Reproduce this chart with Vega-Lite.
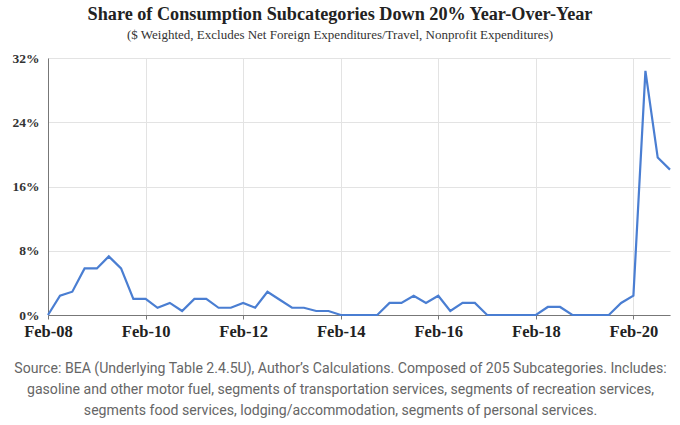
{
  "$schema": "https://vega.github.io/schema/vega-lite/v6.json",
  "width": 622,
  "height": 257,
  "autosize": {"type": "none"},
  "padding": {"left": 48, "top": 58, "right": 10, "bottom": 110},
  "background": "white",
  "title": {
    "text": "Share of Consumption Subcategories Down 20% Year-Over-Year",
    "subtitle": "($ Weighted, Excludes Net Foreign Expenditures/Travel, Nonprofit Expenditures)",
    "font": "Liberation Serif",
    "fontSize": 18.2,
    "fontWeight": "bold",
    "color": "#222222",
    "subtitleFont": "Liberation Serif",
    "subtitleFontSize": 13,
    "subtitleColor": "#333333",
    "subtitlePadding": 5,
    "anchor": "middle",
    "dx": -19,
    "offset": 8
  },
  "data": {
    "values": [
      {"date": "2008-02-01", "share": 0},
      {"date": "2008-05-01", "share": 2.4},
      {"date": "2008-08-01", "share": 2.9},
      {"date": "2008-11-01", "share": 5.8},
      {"date": "2009-02-01", "share": 5.8},
      {"date": "2009-05-01", "share": 7.3},
      {"date": "2009-08-01", "share": 5.8},
      {"date": "2009-11-01", "share": 2.0},
      {"date": "2010-02-01", "share": 2.0},
      {"date": "2010-05-01", "share": 0.9},
      {"date": "2010-08-01", "share": 1.5},
      {"date": "2010-11-01", "share": 0.5},
      {"date": "2011-02-01", "share": 2.0},
      {"date": "2011-05-01", "share": 2.0},
      {"date": "2011-08-01", "share": 0.9},
      {"date": "2011-11-01", "share": 0.9},
      {"date": "2012-02-01", "share": 1.5},
      {"date": "2012-05-01", "share": 0.9},
      {"date": "2012-08-01", "share": 2.9},
      {"date": "2012-11-01", "share": 1.9},
      {"date": "2013-02-01", "share": 0.9},
      {"date": "2013-05-01", "share": 0.9},
      {"date": "2013-08-01", "share": 0.5},
      {"date": "2013-11-01", "share": 0.5},
      {"date": "2014-02-01", "share": 0},
      {"date": "2014-05-01", "share": 0},
      {"date": "2014-08-01", "share": 0},
      {"date": "2014-11-01", "share": 0},
      {"date": "2015-02-01", "share": 1.5},
      {"date": "2015-05-01", "share": 1.5},
      {"date": "2015-08-01", "share": 2.4},
      {"date": "2015-11-01", "share": 1.5},
      {"date": "2016-02-01", "share": 2.4},
      {"date": "2016-05-01", "share": 0.5},
      {"date": "2016-08-01", "share": 1.5},
      {"date": "2016-11-01", "share": 1.5},
      {"date": "2017-02-01", "share": 0},
      {"date": "2017-05-01", "share": 0},
      {"date": "2017-08-01", "share": 0},
      {"date": "2017-11-01", "share": 0},
      {"date": "2018-02-01", "share": 0},
      {"date": "2018-05-01", "share": 1.0},
      {"date": "2018-08-01", "share": 1.0},
      {"date": "2018-11-01", "share": 0},
      {"date": "2019-02-01", "share": 0},
      {"date": "2019-05-01", "share": 0},
      {"date": "2019-08-01", "share": 0},
      {"date": "2019-11-01", "share": 1.5},
      {"date": "2020-02-01", "share": 2.4},
      {"date": "2020-05-01", "share": 30.4},
      {"date": "2020-08-01", "share": 19.6},
      {"date": "2020-11-01", "share": 18.1}
    ]
  },
  "mark": {"type": "line", "color": "#4a7ed2", "strokeWidth": 2.2, "strokeJoin": "miter"},
  "encoding": {
    "x": {
      "field": "date",
      "type": "temporal",
      "scale": {
        "type": "utc",
        "domain": [
          {"year": 2008, "month": 2, "date": 1, "utc": true},
          {"year": 2020, "month": 11, "date": 1, "utc": true}
        ]
      },
      "axis": {
        "values": [
          {"year": 2008, "month": 2, "date": 1, "utc": true},
          {"year": 2010, "month": 2, "date": 1, "utc": true},
          {"year": 2012, "month": 2, "date": 1, "utc": true},
          {"year": 2014, "month": 2, "date": 1, "utc": true},
          {"year": 2016, "month": 2, "date": 1, "utc": true},
          {"year": 2018, "month": 2, "date": 1, "utc": true},
          {"year": 2020, "month": 2, "date": 1, "utc": true}
        ],
        "labelExpr": "utcFormat(datum.value, '%b-%y')",
        "labelFont": "Liberation Serif",
        "labelFontSize": 16.5,
        "labelFontWeight": "bold",
        "labelColor": "#222222",
        "labelPadding": 4,
        "labelFlush": false,
        "labelOverlap": false,
        "tickSize": 4,
        "tickColor": "#777777",
        "domainColor": "#777777",
        "gridColor": "#e3e3e3",
        "title": [
          "Source: BEA (Underlying Table 2.4.5U), Author’s Calculations. Composed of 205 Subcategories. Includes:",
          "gasoline and other motor fuel, segments of transportation services, segments of recreation services,",
          "segments food services, lodging/accommodation, segments of personal services."
        ],
        "titleFont": "Roboto",
        "titleFontSize": 14.1,
        "titleFontWeight": "normal",
        "titleColor": "#666666",
        "titleLineHeight": 21,
        "titleAnchor": "middle",
        "titleAlign": "center",
        "titleBaseline": "top",
        "titleX": 292,
        "titleY": 46
      }
    },
    "y": {
      "field": "share",
      "type": "quantitative",
      "scale": {"domain": [0, 32], "nice": false},
      "axis": {
        "values": [0, 8, 16, 24, 32],
        "labelExpr": "datum.value + '%'",
        "labelFont": "Liberation Serif",
        "labelFontSize": 13.5,
        "labelFontWeight": "bold",
        "labelColor": "#333333",
        "labelPadding": 9,
        "ticks": false,
        "domainColor": "#777777",
        "gridColor": "#e3e3e3",
        "title": null
      }
    }
  },
  "config": {
    "view": {"stroke": null}
  }
}
